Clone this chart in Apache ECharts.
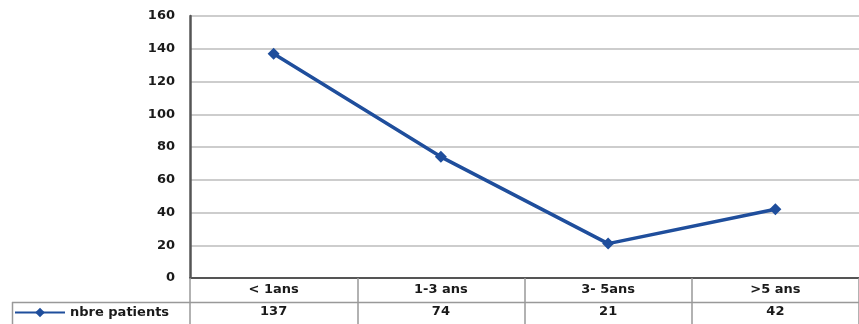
<!DOCTYPE html>
<html>
<head>
<meta charset="utf-8">
<script src="https://cdn.jsdelivr.net/npm/echarts@6/dist/echarts.min.js"></script>
<style>
  html, body { margin: 0; padding: 0; background: #fff; }
  #chart { width: 859px; height: 324px; }
</style>
</head>
<body>
<div id="chart"></div>
<script>
// Age groups and patient counts
const categories = ['< 1ans', '1-3 ans', '3- 5ans', '>5 ans'];
const patients = [137, 74, 21, 42];
const seriesName = 'nbre patients';
const yTicks = [0, 20, 40, 60, 80, 100, 120, 140, 160];

const lineColor = '#1f4e9c';
const textColor = '#1a1a1a';
const font = 'DejaVu Sans';

const chart = echarts.init(document.getElementById('chart'), null, { renderer: 'canvas' });

chart.setOption({
  animation: false,
  backgroundColor: '#fff',
  grid: { left: 190, right: 0, top: 16, bottom: 46 },
  legend: {
    data: [seriesName],
    left: 14,
    top: 306,
    itemWidth: 50,
    itemHeight: 12,
    itemGap: 4,
    padding: 0,
    textStyle: { fontFamily: font, fontWeight: 'bold', fontSize: 13, color: textColor }
  },
  xAxis: {
    type: 'category',
    data: categories,
    boundaryGap: true,
    axisLine: { lineStyle: { color: '#555', width: 2 } },
    axisTick: {
      show: true, interval: 0, inside: false, length: 46,
      lineStyle: { color: '#999', width: 1.5 }
    },
    axisLabel: {
      interval: 0,
      margin: 1,
      formatter: function (name, idx) {
        return '{c|' + name + '}\n{v|' + patients[idx] + '}';
      },
      rich: {
        c: { fontFamily: font, fontWeight: 'bold', fontSize: 13, color: textColor, lineHeight: 22 },
        v: { fontFamily: font, fontWeight: 'bold', fontSize: 13, color: textColor, lineHeight: 22 }
      }
    }
  },
  yAxis: {
    type: 'value',
    min: yTicks[0],
    max: yTicks[yTicks.length - 1],
    interval: 20,
    axisLine: { show: true, lineStyle: { color: '#555', width: 2.5 } },
    axisTick: { show: false },
    axisLabel: {
      margin: 15,
      fontFamily: font, fontWeight: 'bold', fontSize: 13, color: textColor
    },
    splitLine: { lineStyle: { color: '#bdbdbd', width: 1.5 } }
  },
  series: [{
    name: seriesName,
    type: 'line',
    data: patients,
    symbol: 'diamond',
    symbolSize: 12,
    lineStyle: { color: lineColor, width: 3.5 },
    itemStyle: { color: lineColor },
    z: 5
  }],
  graphic: [
    // table rule between category row and value row, and left edge of legend cell
    { type: 'line', shape: { x1: 12, y1: 302.5, x2: 859, y2: 302.5 }, style: { stroke: '#999', lineWidth: 1.5 }, silent: true },
    { type: 'line', shape: { x1: 12.5, y1: 302, x2: 12.5, y2: 324 }, style: { stroke: '#999', lineWidth: 1.5 }, silent: true }
  ]
});
</script>
</body>
</html>
